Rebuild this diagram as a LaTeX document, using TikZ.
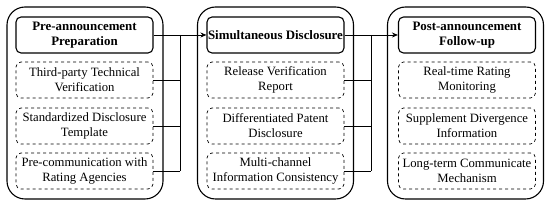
\documentclass[tikz,border=0pt]{standalone}
\usepackage{fontspec}
\setmainfont{Liberation Serif}
\usetikzlibrary{arrows.meta}
\begin{document}
\begin{tikzpicture}[x=1pt,y=-1pt,
  outerbox/.style={draw,line width=1.1pt,rounded corners=18pt,minimum width=156pt,minimum height=192pt},
  headbox/.style={draw,line width=1.1pt,rounded corners=5pt,minimum width=137pt,minimum height=36pt,align=center,font=\fontsize{12.9}{15}\selectfont\bfseries,inner sep=1pt},
  subbox/.style={draw,dashed,line width=0.7pt,rounded corners=5pt,minimum width=137pt,minimum height=36pt,align=center,font=\fontsize{12.7}{15}\selectfont,inner sep=1pt},
  link/.style={line width=0.9pt},
  arr/.style={line width=0.9pt,-{Stealth[length=6pt,width=5pt]}}]
\useasboundingbox (0,0) rectangle (550,205);
% containers
\node[outerbox] (c1) at (85,103) {};
\node[outerbox] (c2) at (275.5,103) {};
\node[outerbox] (c3) at (465.5,103) {};
% column 1
\node[headbox] (h1) at (84.5,35) {Pre-announcement\\Preparation};
\node[subbox] (a1) at (84.5,80) {Third-party Technical\\Verification};
\node[subbox] (a2) at (84.5,126) {Standardized Disclosure\\Template};
\node[subbox] (a3) at (84.5,171) {Pre-communication with\\Rating Agencies};
% column 2
\node[headbox] (h2) at (275.5,35) {Simultaneous Disclosure};
\node[subbox] (b1) at (275.5,80) {Release Verification\\Report};
\node[subbox] (b2) at (275.5,126) {Differentiated Patent\\Disclosure};
\node[subbox] (b3) at (275.5,171) {Multi-channel\\Information Consistency};
% column 3
\node[headbox] (h3) at (467,35) {Post-announcement\\Follow-up};
\node[subbox] (d1) at (467,80) {Real-time Rating\\Monitoring};
\node[subbox] (d2) at (467,126) {Supplement Divergence\\Information};
\node[subbox] (d3) at (467,171) {Long-term Communicate\\Mechanism};
% bus 1
\coordinate (j1) at (180,35);
\coordinate (k1) at (180,171);
\draw[link] (h1.east) -- (j1);
\draw[link] (a1.east) -- (a1.east -| j1);
\draw[link] (a2.east) -- (a2.east -| j1);
\draw[link] (a3.east) -- (k1);
\draw[link] (j1) -- (k1);
\draw[arr] (j1) -- (h2.west);
% bus 2
\coordinate (j2) at (371,35);
\coordinate (k2) at (371,171);
\draw[link] (h2.east) -- (j2);
\draw[link] (b1.east) -- (b1.east -| j2);
\draw[link] (b2.east) -- (b2.east -| j2);
\draw[link] (b3.east) -- (k2);
\draw[link] (j2) -- (k2);
\draw[arr] (j2) -- (h3.west);
\end{tikzpicture}
\end{document}
